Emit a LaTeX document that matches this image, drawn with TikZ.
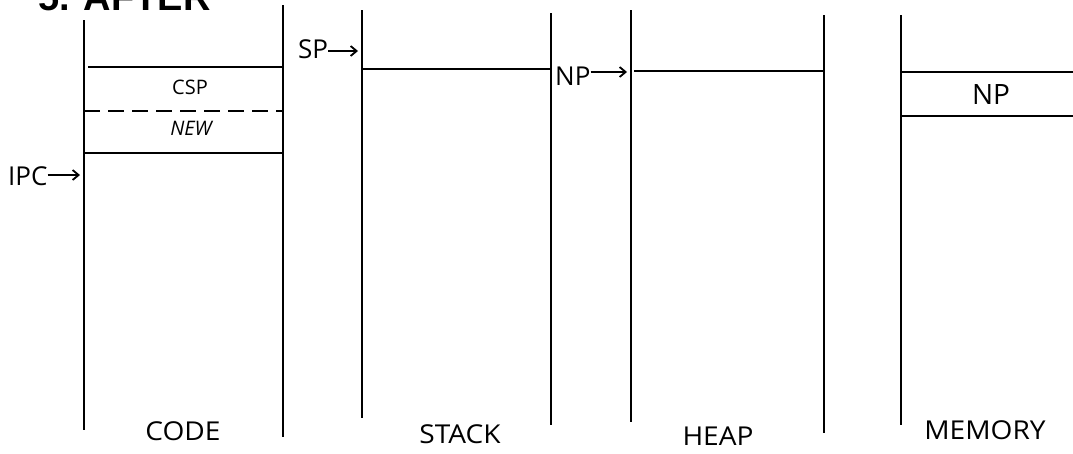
\documentclass[tikz,border=0pt]{standalone}
\usepackage{fontspec}
\setmainfont{Open Sans}
\newfontfamily\widefont{Open Sans}[FakeStretch=1.08]
\newfontfamily\titlefont{Liberation Sans}
\usetikzlibrary{arrows.meta}
\begin{document}
\begin{tikzpicture}[x=1pt,y=-1pt,
  vline/.style={line width=1.6pt},
  hline/.style={line width=2.6pt},
  lbl/.style={font=\fontsize{26}{28}\selectfont, inner sep=0pt},
  bot/.style={font=\widefont\fontsize{26}{28}\selectfont, inner sep=0pt, anchor=base},
  small/.style={font=\fontsize{20}{22}\selectfont, inner sep=0pt},
  ptr/.style={line width=1.8pt,-{Straight Barb[length=6pt,width=10pt,line width=1.8pt]}}]
\useasboundingbox (0,0) rectangle (1073,453);
\clip (0,0) rectangle (1073,453);
% title (cut off at top)
\node[anchor=base west, inner sep=0pt, font=\titlefont\bfseries\fontsize{38}{40}\selectfont] (title) at (38,10) {5. AFTER};
% vertical lines
\draw[vline] (84,20) coordinate (c1t) -- (84,430) coordinate (c1b);
\draw[vline] (283,5) coordinate (c2t) -- (283,437) coordinate (c2b);
\draw[vline] (362,10) coordinate (s1t) -- (362,418) coordinate (s1b);
\draw[vline] (551,13) coordinate (s2t) -- (551,425) coordinate (s2b);
\draw[vline] (631,10) coordinate (h1t) -- (631,422) coordinate (h1b);
\draw[vline] (824,15) coordinate (h2t) -- (824,433) coordinate (h2b);
\draw[vline] (901,15) coordinate (m1t) -- (901,425) coordinate (m1b);
% CODE
\draw[hline] (88,67) coordinate (ca) -- (283,67) coordinate (cb);
\draw[hline, dash pattern=on 16pt off 8pt] (84,111) coordinate (cc) -- (283,111) coordinate (cd);
\draw[hline] (84,153) coordinate (ce) -- (283,153) coordinate (cf);
\node[small] (csp) at (190,87) {CSP};
\node[small] (new) at (191,128) {\itshape NEW};
% STACK
\draw[hline] (362,69) coordinate (sa) -- (551,69) coordinate (sb);
% HEAP
\draw[hline] (634,71) coordinate (ha) -- (824,71) coordinate (hb);
% MEMORY
\draw[hline] (901,72) coordinate (ma) -- (1073,72) coordinate (mb);
\draw[hline] (901,116) coordinate (mc) -- (1073,116) coordinate (md);
\node[lbl, font=\fontsize{28}{30}\selectfont] (np2) at (991,95) {NP};
% pointers
\node[lbl, anchor=base west] (sp) at (298,58) {SP};
\coordinate (spt) at (358,51);
\draw[ptr] (sp.east |- spt) -- (spt);
\node[lbl, anchor=base west] (np) at (555,85) {NP};
\coordinate (npt) at (627,72);
\draw[ptr] (np.east |- npt) -- (npt);
\node[lbl, anchor=base west] (ipc) at (8,185) {IPC};
\coordinate (ipct) at (80,175);
\draw[ptr] (ipc.east |- ipct) -- (ipct);
% bottom labels
\node[bot] (code) at (183,440) {CODE};
\node[bot] (stack) at (460,443) {STACK};
\node[bot] (heap) at (718,445) {HEAP};
\node[bot] (mem) at (985,439) {MEMORY};
\end{tikzpicture}
\end{document}
